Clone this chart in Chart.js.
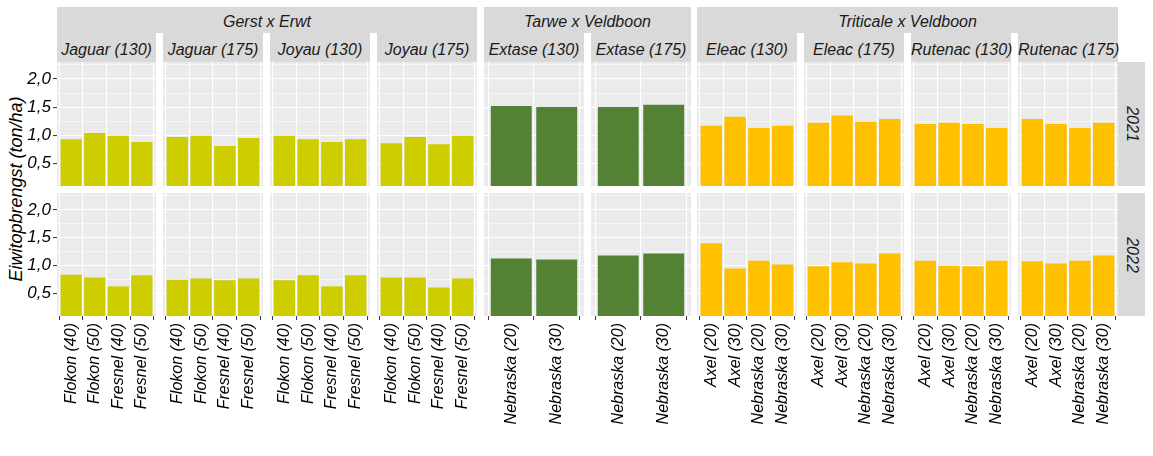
<!DOCTYPE html>
<html>
<head>
<meta charset="utf-8">
<script src="https://cdn.jsdelivr.net/npm/chart.js@4/dist/chart.umd.min.js"></script>
<style>
  html, body { margin: 0; padding: 0; background: #ffffff; }
  #wrap { position: relative; width: 1153px; height: 456px; overflow: hidden; background: #ffffff;
          font-family: 'Liberation Sans', Arial, sans-serif; font-style: italic; }
  canvas { position: absolute; }
  .strip { position: absolute; background: #D9D9D9; }
  .stxt { position: absolute; font-size: 16px; color: #1A1A1A; text-align: center; line-height: 20px; height: 20px; white-space: nowrap; }
  .ytitle { position: absolute; font-size: 18px; color: #000; text-align: center; line-height: 20px; height: 20px; width: 260px; transform: rotate(-90deg); white-space: nowrap; }
</style>
</head>
<body>
<div id="wrap"></div>
<script>
// ---------- data ----------
const groups = ['Gerst x Erwt', 'Tarwe x Veldboon', 'Triticale x Veldboon'];
const groupColors = ['#CDCD00', '#548235', '#FFC000'];
const panelNames = ['Jaguar (130)', 'Jaguar (175)', 'Joyau (130)', 'Joyau (175)',
                    'Extase (130)', 'Extase (175)',
                    'Eleac (130)', 'Eleac (175)', 'Rutenac (130)', 'Rutenac (175)'];
const panelGroup = [0, 0, 0, 0, 1, 1, 2, 2, 2, 2];
const years = ['2021', '2022'];
const catsGerst = ['Flokon (40)', 'Flokon (50)', 'Fresnel (40)', 'Fresnel (50)'];
const catsTarwe = ['Nebraska (20)', 'Nebraska (30)'];
const catsTriticale = ['Axel (20)', 'Axel (30)', 'Nebraska (20)', 'Nebraska (30)'];
const values2021 = [
  [0.93, 1.04, 0.99, 0.88],
  [0.97, 0.99, 0.81, 0.95],
  [0.99, 0.93, 0.88, 0.93],
  [0.86, 0.97, 0.84, 0.99],
  [1.52, 1.50],
  [1.50, 1.54],
  [1.17, 1.33, 1.13, 1.17],
  [1.22, 1.35, 1.24, 1.29],
  [1.20, 1.22, 1.20, 1.13],
  [1.29, 1.20, 1.13, 1.22]
];
const values2022 = [
  [0.84, 0.79, 0.63, 0.83],
  [0.75, 0.77, 0.74, 0.77],
  [0.74, 0.83, 0.63, 0.83],
  [0.79, 0.79, 0.61, 0.77],
  [1.13, 1.11],
  [1.18, 1.22],
  [1.40, 0.95, 1.09, 1.02],
  [0.99, 1.06, 1.04, 1.22],
  [1.09, 1.00, 0.99, 1.09],
  [1.08, 1.04, 1.09, 1.18]
];
const yTickValues = [0.25, 0.5, 0.75, 1.0, 1.25, 1.5, 1.75, 2.0, 2.25];
const yTitle = 'Eiwitopbrengst (ton/ha)';

// ---------- layout ----------
const catsByGroup = [catsGerst, catsTarwe, catsTriticale];
const colLeft = [57, 163, 270, 377, 484, 591, 697, 804, 911, 1018];
const colWidth = [99, 100, 100, 100, 100, 100, 100, 100, 100, 100];
const rowTop = [62, 193];
const rowHeight = [124, 123];
const yAxisW = 57;
const xAxisH = 140;
const FONT = "'Liberation Sans', Arial, sans-serif";

const wrap = document.getElementById('wrap');
function addDiv(cls, css, text) {
  const d = document.createElement('div');
  d.className = cls;
  Object.assign(d.style, css);
  if (text !== undefined) d.textContent = text;
  wrap.appendChild(d);
  return d;
}

// group strips
const groupCols = [[0, 3], [4, 5], [6, 9]];
groups.forEach((g, gi) => {
  const l = colLeft[groupCols[gi][0]];
  const r = colLeft[groupCols[gi][1]] + colWidth[groupCols[gi][1]];
  addDiv('strip', { left: l + 'px', top: '7px', width: (r - l) + 'px', height: '26px' });
  addDiv('stxt', { left: l + 'px', top: '12px', width: (r - l) + 'px' }, g);
});
// panel strips
panelNames.forEach((p, i) => {
  addDiv('strip', { left: colLeft[i] + 'px', top: '33px', width: colWidth[i] + 'px', height: '29px' });
  addDiv('stxt', { left: colLeft[i] + 'px', top: '40px', width: colWidth[i] + 'px' }, p);
});
// year strips
years.forEach((y, ri) => {
  addDiv('strip', { left: '1118px', top: rowTop[ri] + 'px', width: '27px', height: rowHeight[ri] + 'px' });
  const cy = rowTop[ri] + rowHeight[ri] / 2;
  addDiv('stxt', { left: (1131.5 - 40) + 'px', top: (cy - 10) + 'px', width: '80px', transform: 'rotate(90deg)' }, y);
});
// y title
addDiv('ytitle', { left: (16 - 130) + 'px', top: (189 - 10) + 'px' }, yTitle);

const bgPlugin = {
  id: 'panelbg',
  beforeDraw(chart) {
    const a = chart.chartArea, ctx = chart.ctx;
    ctx.save();
    ctx.fillStyle = '#EBEBEB';
    ctx.fillRect(a.left, a.top, a.right - a.left, a.bottom - a.top);
    ctx.restore();
  }
};
const isMajor = v => Math.abs(v * 2 - Math.round(v * 2)) < 1e-6;

[values2021, values2022].forEach((vals, row) => {
  vals.forEach((arr, col) => {
    const cats = catsByGroup[panelGroup[col]];
    const color = groupColors[panelGroup[col]];
    const showY = col === 0;
    const showX = row === 1;
    const cv = document.createElement('canvas');
    const left = showY ? colLeft[col] - yAxisW : colLeft[col];
    const w = colWidth[col] + (showY ? yAxisW : 0);
    const h = rowHeight[row] + (showX ? xAxisH : 0);
    cv.width = w; cv.height = h;
    cv.style.left = left + 'px';
    cv.style.top = rowTop[row] + 'px';
    wrap.appendChild(cv);
    new Chart(cv, {
      type: 'bar',
      data: {
        datasets: [{
          data: arr.map((v, i) => ({ x: i, y: v })),
          backgroundColor: color,
          borderWidth: 0,
          barPercentage: 0.9,
          categoryPercentage: 1.0,
          clip: 0
        }]
      },
      options: {
        responsive: false,
        animation: false,
        devicePixelRatio: 1,
        events: [],
        layout: { padding: 0 },
        plugins: { legend: { display: false }, tooltip: { enabled: false } },
        scales: {
          x: {
            type: 'linear',
            min: -0.6,
            max: cats.length - 0.4,
            offset: false,
            afterBuildTicks: s => { s.ticks = cats.map((c, i) => ({ value: i })); },
            afterFit: s => { s.height = showX ? xAxisH : 0; s.paddingLeft = 0; s.paddingRight = 0; },
            grid: { color: '#FFFFFF', lineWidth: 1.1, drawTicks: showX, tickLength: 4, tickColor: '#333333', tickWidth: 1 },
            border: { display: false },
            ticks: {
              display: showX, autoSkip: false, minRotation: 90, maxRotation: 90, padding: 3,
              callback: v => cats[v],
              color: '#000000',
              font: { family: FONT, size: 16, style: 'italic' }
            }
          },
          y: {
            type: 'linear',
            min: 0.1,
            max: 2.3,
            afterBuildTicks: s => { s.ticks = yTickValues.map(v => ({ value: v })); },
            afterFit: s => { s.width = showY ? yAxisW : 0; s.paddingTop = 0; s.paddingBottom = 0; },
            grid: {
              color: '#FFFFFF',
              lineWidth: c => (c.tick && isMajor(c.tick.value)) ? 1.1 : 0.55,
              drawTicks: showY, tickLength: 4, tickWidth: 1,
              tickColor: c => (c.tick && isMajor(c.tick.value)) ? '#333333' : 'rgba(0,0,0,0)'
            },
            border: { display: false },
            ticks: {
              display: showY, autoSkip: false, padding: 2,
              callback: v => isMajor(v) ? v.toFixed(1).replace('.', ',') : '',
              color: '#000000',
              font: { family: FONT, size: 17, style: 'italic' }
            }
          }
        }
      },
      plugins: [bgPlugin]
    });
  });
});
</script>
</body>
</html>
